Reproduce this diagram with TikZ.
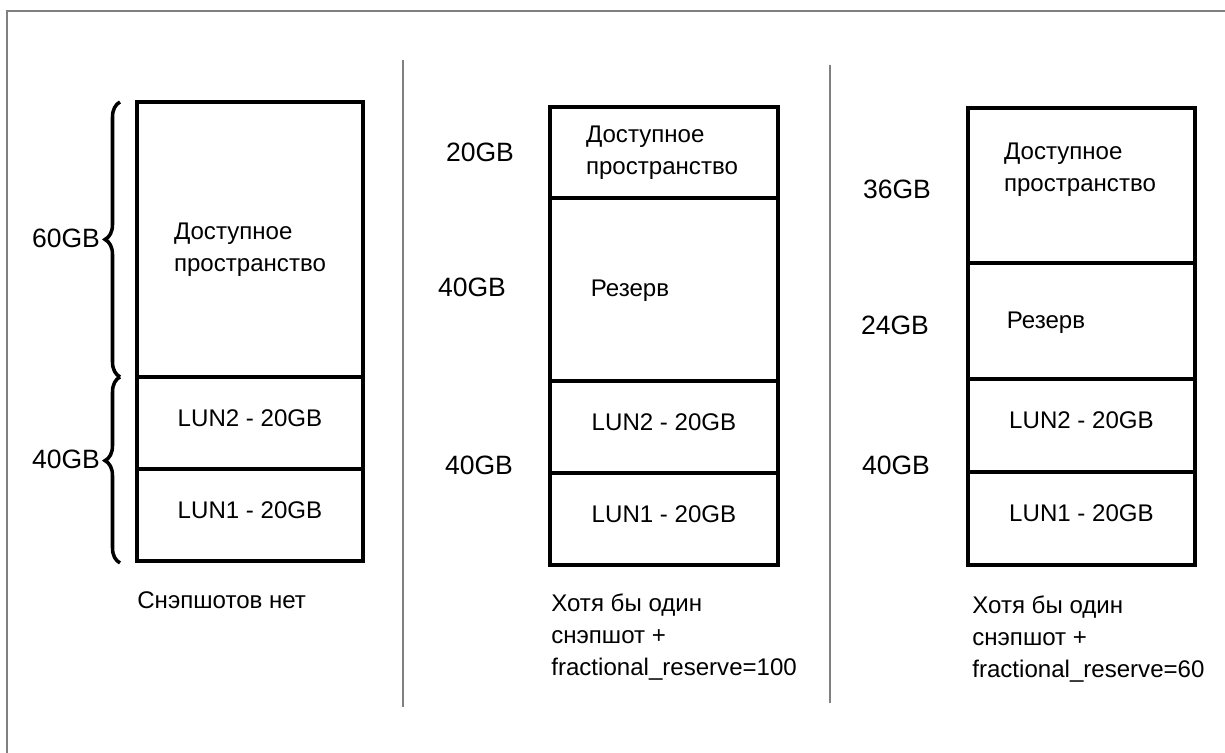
\documentclass[tikz,border=0pt]{standalone}
\usepackage{fontspec}
\setmainfont{Liberation Sans}
\usetikzlibrary{positioning,decorations.pathreplacing}

\begin{document}
\begin{tikzpicture}[x=0.02cm, y=-0.02cm, font=\fontsize{13.7pt}{18.4pt}\selectfont,
    seg/.style={rectangle, draw, line width=2.3pt, outer sep=0pt, inner sep=0pt},
    lun/.style={seg, text depth=0.2cm},
    txt/.style={inner sep=0pt, align=left},
    gb/.style={inner sep=0pt, font=\fontsize{15.1pt}{18pt}\selectfont},
    note/.style={inner sep=0pt, align=left, anchor=north west},
    sep/.style={draw=gray, line width=1pt},
    frame/.style={draw=gray, line width=1.4pt},
    brace/.style={decorate, decoration={brace, amplitude=0.3cm}, line width=2pt}]
  \useasboundingbox (0,0) rectangle (1225,753);
  \draw[frame] (7,753) -- (7,11) -- (1225,11);
  \draw[sep] (403,60) -- (403,707);
  \draw[sep] (830,65) -- (830,703);

  % no snapshots
  \node[seg, anchor=north west, minimum width=4.52cm, minimum height=5.5cm] (avail1) at (137,102) {};
  \node[lun, below=0pt of avail1, minimum width=4.52cm, minimum height=1.84cm] (lunb1) {LUN2 - 20GB};
  \node[lun, below=0pt of lunb1, minimum width=4.52cm, minimum height=1.84cm] (luna1) {LUN1 - 20GB};
  \node[txt] (avtxt1) at (250,250) {Доступное\\пространство};
  \draw[brace] ([xshift=-0.34cm]lunb1.north west) -- ([xshift=-0.34cm]avail1.north west);
  \draw[brace, decoration={aspect=0.55}] ([xshift=-0.34cm,yshift=-0.04cm]luna1.south west) -- ([xshift=-0.34cm]lunb1.north west);
  \node[gb] (gb60) at (66,238) {60GB};
  \node[gb] (gb40a) at (66,459) {40GB};
  \node[inner sep=0pt, anchor=north west] (note1) at (137,591) {Снэпшотов нет};

  % fractional_reserve=100
  \node[seg, anchor=north west, minimum width=4.56cm, minimum height=1.82cm] (avail2) at (550,107) {};
  \node[seg, below=0pt of avail2, minimum width=4.56cm, minimum height=3.66cm] (res2) {};
  \node[lun, below=0pt of res2, minimum width=4.56cm, minimum height=1.84cm] (lunb2) {LUN2 - 20GB};
  \node[lun, below=0pt of lunb2, minimum width=4.56cm, minimum height=1.84cm] (luna2) {LUN1 - 20GB};
  \node[txt] (avtxt2) at (662,153) {Доступное\\пространство};
  \node[txt] (restxt2) at (630,291) {Резерв};
  \node[gb] (gb20) at (480,152) {20GB};
  \node[gb] (gb40b) at (472,287) {40GB};
  \node[gb] (gb40c) at (479,465) {40GB};
  \node[note] (note2) at (551,593) {Хотя бы один\\снэпшот +\\fractional\_reserve=100};

  % fractional_reserve=60
  \node[seg, anchor=north west, minimum width=4.54cm, minimum height=3.1cm] (avail3) at (968,108) {};
  \node[seg, below=0pt of avail3, minimum width=4.54cm, minimum height=2.32cm] (res3) {};
  \node[lun, below=0pt of res3, minimum width=4.54cm, minimum height=1.86cm] (lunb3) {LUN2 - 20GB};
  \node[lun, below=0pt of lunb3, minimum width=4.54cm, minimum height=1.86cm] (luna3) {LUN1 - 20GB};
  \node[txt] (avtxt3) at (1080,170) {Доступное\\пространство};
  \node[txt] (restxt3) at (1046,323) {Резерв};
  \node[gb] (gb36) at (897,189) {36GB};
  \node[gb] (gb24) at (895,325) {24GB};
  \node[gb] (gb40d) at (896,465) {40GB};
  \node[note] (note3) at (972,595) {Хотя бы один\\снэпшот +\\fractional\_reserve=60};
\end{tikzpicture}
\end{document}
